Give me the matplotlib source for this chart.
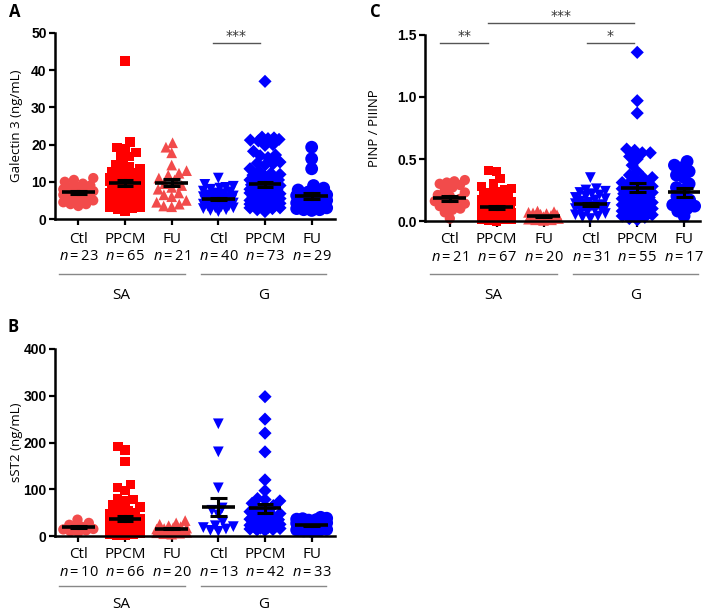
import numpy as np
import matplotlib
matplotlib.use("Agg")
import matplotlib.pyplot as plt
from matplotlib import transforms

plt.rcParams['font.family'] = ['Open Sans', 'DejaVu Sans']
plt.rcParams['mathtext.fontset'] = 'custom'
plt.rcParams['mathtext.it'] = 'Open Sans:italic'
plt.rcParams['mathtext.rm'] = 'Open Sans'

# ---------------- data ----------------
categories = ["Ctl", "PPCM", "FU", "Ctl", "PPCM", "FU"]
groups = ["SA", "G"]

# Panel A: Galectin 3 (ng/mL)
gal_sa_ctl = [3.5, 4.0, 4.0, 4.5, 5.0, 5.5, 5.5, 6.0, 6.5, 6.5, 7.0, 7.0, 7.5, 7.5, 8.0, 8.0,
              8.5, 8.5, 9.0, 9.5, 10.0, 10.5, 11.0]
gal_sa_ppcm = [42.5, 20.7, 19.2, 19.0, 17.8, 17.2, 16.8, 15.2, 14.5, 14.0, 13.5, 13.0, 12.5, 12.0,
               12.0, 11.5, 11.0, 11.0, 10.5, 10.5, 10.0, 10.0, 9.5, 9.5, 9.0, 9.0, 8.5, 8.5, 8.0,
               8.0, 7.5, 7.5, 7.0, 7.0, 6.5, 6.5, 6.0, 6.0, 5.5, 5.5, 5.0, 5.0, 4.5, 4.5, 4.0, 4.0,
               3.5, 3.5, 3.0, 3.0, 2.5, 2.0, 3.2, 4.2, 5.2, 6.2, 7.2, 8.2, 9.2, 10.2, 11.2, 2.8,
               3.8, 4.8, 12.8]
gal_sa_fu = [20.5, 19.3, 17.8, 14.5, 13.0, 12.3, 11.8, 11.0, 10.5, 9.5, 9.0, 8.5, 8.0, 7.0, 6.5,
             6.0, 5.0, 4.5, 4.0, 3.5, 3.3]
gal_g_ctl = [11.0, 9.3, 8.8, 8.5, 8.3, 8.0, 7.5, 7.3, 7.0, 6.8, 6.5, 6.3, 6.0, 6.0, 5.8, 5.5, 5.5,
             5.3, 5.0, 5.0, 5.0, 4.8, 4.5, 4.5, 4.3, 4.0, 4.0, 3.8, 3.5, 3.5, 3.3, 3.0, 3.0, 2.8,
             2.5, 2.3, 2.0, 5.2, 6.2, 4.2]
gal_g_ppcm = [37.0, 22.0, 21.8, 21.6, 21.4, 21.2, 21.0, 20.0, 19.8, 18.2, 17.2, 17.0, 16.5, 15.3,
              15.0, 14.8, 14.5, 13.5, 12.8, 12.3, 12.0, 11.5, 11.0, 11.0, 10.5, 10.5, 10.0, 10.0,
              9.5, 9.5, 9.0, 9.0, 8.5, 8.5, 8.0, 8.0, 7.5, 7.5, 7.0, 7.0, 6.5, 6.5, 6.0, 6.0, 5.5,
              5.5, 5.0, 5.0, 4.5, 4.5, 4.0, 4.0, 3.5, 3.5, 3.0, 3.0, 2.5, 2.0, 3.2, 4.2, 5.2, 6.2,
              7.2, 8.2, 9.2, 10.2, 3.8, 4.8, 5.8, 6.8, 7.8, 2.8, 11.8]
gal_g_fu = [19.3, 16.2, 13.5, 9.0, 8.3, 7.8, 7.3, 7.0, 6.5, 6.3, 6.0, 5.8, 5.5, 5.3, 5.0, 4.8, 4.5,
            4.3, 4.0, 3.8, 3.5, 3.3, 3.0, 3.0, 2.8, 2.5, 2.5, 2.3, 6.8]
gal_mean = [7.2, 9.7, 9.8, 5.4, 9.3, 6.1]
gal_sem = [0.45, 0.8, 1.0, 0.3, 0.7, 0.8]
gal_n = [23, 65, 21, 40, 73, 29]

# Panel B: sST2 (ng/mL)
st2_sa_ctl = [35, 28, 24, 20, 18, 15, 14, 12, 10, 8]
st2_sa_ppcm = [192, 184, 160, 110, 104, 97, 80, 78, 75, 68, 62, 60, 55, 50, 48, 45, 42, 40, 38, 36,
               35, 34, 33, 32, 31, 30, 29, 28, 27, 26, 25, 24, 23, 22, 21, 20, 19, 18, 17, 16, 15,
               14, 13, 12, 11, 10, 9, 8, 7, 6, 5, 4, 3, 2, 1, 30, 25, 20, 15, 10, 5, 28, 22, 18,
               12, 8]
st2_sa_fu = [33, 28, 25, 22, 20, 18, 17, 16, 15, 14, 13, 12, 11, 10, 9, 8, 7, 6, 5, 4]
st2_g_ctl = [240, 180, 103, 60, 55, 45, 30, 22, 20, 18, 15, 12, 10]
st2_g_ppcm = [298, 250, 220, 180, 120, 97, 80, 78, 75, 70, 65, 60, 55, 52, 50, 48, 45, 42, 40, 38,
              36, 35, 33, 32, 30, 28, 27, 26, 25, 24, 23, 22, 21, 20, 19, 18, 17, 16, 15, 14, 13, 12]
st2_g_fu = [40, 38, 37, 36, 35, 34, 33, 32, 31, 30, 29, 28, 27, 26, 25, 24, 23, 22, 21, 20, 19, 18,
            17, 16, 15, 14, 13, 12, 11, 10, 25, 20, 15]
st2_mean = [19, 37, 16, 62, 59, 23]
st2_sem = [2.5, 5.0, 2.0, 19.5, 10.0, 1.5]
st2_n = [10, 66, 20, 13, 42, 33]

# Panel C: PINP / PIIINP
pin_sa_ctl = [0.33, 0.32, 0.31, 0.30, 0.29, 0.27, 0.25, 0.23, 0.21, 0.20, 0.18, 0.17, 0.16, 0.15,
              0.14, 0.13, 0.12, 0.10, 0.09, 0.07, 0.02]
pin_sa_ppcm = [0.41, 0.40, 0.34, 0.30, 0.28, 0.26, 0.25, 0.24, 0.23, 0.22, 0.21, 0.20, 0.19, 0.18,
               0.17, 0.16, 0.15, 0.14, 0.13, 0.12, 0.115, 0.11, 0.105, 0.10, 0.095, 0.09, 0.085,
               0.08, 0.075, 0.07, 0.065, 0.06, 0.055, 0.05, 0.045, 0.04, 0.035, 0.03, 0.025, 0.02,
               0.015, 0.01, 0.005, 0.0, 0.11, 0.10, 0.09, 0.08, 0.07, 0.06, 0.05, 0.04, 0.03, 0.02,
               0.01, 0.12, 0.13, 0.14, 0.15, 0.16, 0.06, 0.05, 0.04, 0.03, 0.02, 0.01, 0.07]
pin_sa_fu = [0.08, 0.075, 0.07, 0.065, 0.06, 0.055, 0.05, 0.045, 0.04, 0.04, 0.035, 0.03, 0.03,
             0.025, 0.02, 0.02, 0.015, 0.01, 0.01, 0.005]
pin_g_ctl = [0.35, 0.26, 0.25, 0.24, 0.23, 0.22, 0.21, 0.20, 0.19, 0.18, 0.17, 0.16, 0.15, 0.14,
             0.14, 0.13, 0.13, 0.12, 0.12, 0.11, 0.10, 0.10, 0.09, 0.08, 0.07, 0.06, 0.05, 0.04,
             0.03, 0.02, 0.11]
pin_g_ppcm = [1.36, 0.97, 0.87, 0.58, 0.57, 0.55, 0.55, 0.52, 0.50, 0.45, 0.40, 0.37, 0.35, 0.33,
              0.31, 0.30, 0.29, 0.28, 0.27, 0.26, 0.25, 0.24, 0.23, 0.22, 0.21, 0.20, 0.19, 0.18,
              0.17, 0.16, 0.15, 0.14, 0.13, 0.12, 0.11, 0.10, 0.09, 0.08, 0.07, 0.06, 0.05, 0.04,
              0.03, 0.02, 0.01, 0.30, 0.25, 0.20, 0.15, 0.10, 0.05, 0.35, 0.18, 0.08, 0.12]
pin_g_fu = [0.48, 0.45, 0.43, 0.40, 0.37, 0.35, 0.30, 0.27, 0.25, 0.20, 0.17, 0.15, 0.13, 0.12,
            0.10, 0.08, 0.04]
pin_mean = [0.185, 0.11, 0.037, 0.135, 0.27, 0.23]
pin_sem = [0.02, 0.012, 0.005, 0.012, 0.035, 0.035]
pin_n = [21, 67, 20, 31, 55, 17]

# ---------------- styles ----------------
C_LRED = '#F24B4B'
C_RED = '#FF0000'
C_BLUE = '#0000FF'
colors = [C_LRED, C_RED, C_LRED, C_BLUE, C_BLUE, C_BLUE]
markers_A = ['o', 's', '^', 'v', 'D', 'o']
msize = [55, 45, 60, 60, 45, 85]

W, H = 709, 612
fig = plt.figure(figsize=(W / 100, H / 100), dpi=100)


def axes_px(left, top, right, bottom):
    return fig.add_axes([left / W, 1 - bottom / H, (right - left) / W, (bottom - top) / H])


def swarm(vals, ppu, d, maxhalf):
    vals = np.asarray(vals, float)
    ys = vals * ppu
    order = np.argsort(vals)
    placed = []
    xs = np.zeros(len(vals))
    for i in order:
        y = ys[i]
        cands = [0.0]
        for (xj, yj) in placed:
            dy = y - yj
            if abs(dy) < d:
                dx = np.sqrt(d * d - dy * dy)
                cands += [xj + dx, xj - dx]
        cands = sorted(set(cands), key=lambda c: (abs(c), c))
        chosen = None
        for c in cands:
            if abs(c) > maxhalf + 1e-9:
                continue
            ok = all((c - xj) ** 2 + (y - yj) ** 2 >= d * d - 1e-6 for (xj, yj) in placed)
            if ok:
                chosen = c
                break
        if chosen is None:
            grid = np.linspace(-maxhalf, maxhalf, 21)
            best, bestd = 0.0, -1
            for g in grid:
                md = min([(g - xj) ** 2 + (y - yj) ** 2 for (xj, yj) in placed] + [1e9])
                if md > bestd + 1e-9:
                    best, bestd = g, md
            chosen = best
        xs[i] = chosen
        placed.append((chosen, y))
    return xs


def panel(ax, data, means, sems, ns, ylim, yticks, yticklabels, ylabel, xlim, box_px, offs,
          ylabel_x):
    left, top, right, bottom = box_px
    hpx = bottom - top
    wpx = right - left
    ppu = hpx / (ylim[1] - ylim[0])
    cat_px = wpx / (xlim[1] - xlim[0])
    for i, vals in enumerate(data):
        xoff_px = swarm(vals, ppu, 8.0, 15.0)
        x = (i + 1) + xoff_px / cat_px
        ax.scatter(x, vals, s=msize[i], marker=markers_A[i], color=colors[i],
                   edgecolors='none', zorder=2, clip_on=False)
    for i, (m, s) in enumerate(zip(means, sems)):
        xc = i + 1
        ax.plot([xc - 0.35, xc + 0.35], [m, m], color='black', lw=2.6, zorder=4,
                solid_capstyle='butt')
        ax.plot([xc, xc], [m - s, m + s], color='black', lw=2.2, zorder=4)
        for yy in (m - s, m + s):
            ax.plot([xc - 0.18, xc + 0.18], [yy, yy], color='black', lw=2.2, zorder=4,
                    solid_capstyle='butt')
    ax.set_xlim(*xlim)
    ax.set_ylim(*ylim)
    ax.set_yticks(yticks)
    ax.set_yticklabels(yticklabels, fontfamily='Liberation Sans', fontweight='bold', fontsize=10)
    ax.set_xticks(range(1, 7))
    ax.set_xticklabels([])
    for sp in ('top', 'right'):
        ax.spines[sp].set_visible(False)
    for sp in ('left', 'bottom'):
        ax.spines[sp].set_linewidth(1.8)
    ax.tick_params(axis='both', direction='out', length=4.5, width=1.6, pad=1.5)
    ax.set_ylabel(ylabel, fontsize=9.5)
    ax.yaxis.set_label_coords(ylabel_x, 0.5)
    o_cat, o_n, o_line, o_grp = offs
    for i in range(6):
        ax.annotate(categories[i], xy=(i + 1, 0), xycoords=('data', 'axes fraction'),
                    xytext=(0, -o_cat * 0.72), textcoords='offset points', ha='center',
                    va='center', fontsize=11)
        ax.annotate(r"$n$" + "\u2009=\u2009%d" % ns[i], xy=(i + 1, 0),
                    xycoords=('data', 'axes fraction'),
                    xytext=(0, -o_n * 0.72), textcoords='offset points', ha='center',
                    va='center', fontsize=10.5)
    trans = transforms.blended_transform_factory(ax.transData, ax.transAxes)
    yline = -o_line / hpx
    ygrp = -o_grp / hpx
    for (x0, x1), g in zip([(0.58, 3.28), (3.62, 6.3)], groups):
        ax.plot([x0, x1], [yline, yline], color='#888888', lw=1.0, transform=trans,
                clip_on=False)
        ax.text((x0 + x1) / 2, ygrp, g, transform=trans, ha='center', va='center', fontsize=11)


def sig(ax, x0, x1, y, txt):
    ax.plot([x0, x1], [y, y], color='#555555', lw=1.0, clip_on=False, zorder=5)
    ax.text((x0 + x1) / 2, y, txt, ha='center', va='bottom', fontsize=10, color='#333333',
            fontfamily='DejaVu Sans')


# Panel A
boxA = (55, 33, 335, 219)
axA = axes_px(*boxA)
panel(axA, [gal_sa_ctl, gal_sa_ppcm, gal_sa_fu, gal_g_ctl, gal_g_ppcm, gal_g_fu],
      gal_mean, gal_sem, gal_n, (0, 50), [0, 10, 20, 30, 40, 50],
      ['0', '10', '20', '30', '40', '50'], 'Galectin 3 (ng/mL)', (0.5, 6.5), boxA,
      (20, 37, 55, 76), -0.115)
sig(axA, 3.88, 4.89, 47.3, '***')

# Panel B
boxB = (55, 349, 335, 536)
axB = axes_px(*boxB)
panel(axB, [st2_sa_ctl, st2_sa_ppcm, st2_sa_fu, st2_g_ctl, st2_g_ppcm, st2_g_fu],
      st2_mean, st2_sem, st2_n, (0, 400), [0, 100, 200, 300, 400],
      ['0', '100', '200', '300', '400'], 'sST2 (ng/mL)', (0.5, 6.5), boxB,
      (19, 36, 50, 69), -0.115)

# Panel C
boxC = (425, 35, 700, 221)
axC = axes_px(*boxC)
panel(axC, [pin_sa_ctl, pin_sa_ppcm, pin_sa_fu, pin_g_ctl, pin_g_ppcm, pin_g_fu],
      pin_mean, pin_sem, pin_n, (0, 1.5), [0.0, 0.5, 1.0, 1.5],
      ['0.0', '0.5', '1.0', '1.5'], 'PINP / PIIINP', (0.47, 6.34), boxC,
      (18, 36, 53, 74), -0.16)
sig(axC, 0.79, 1.82, 1.435, '**')
sig(axC, 1.82, 4.93, 1.597, '***')
sig(axC, 3.92, 4.93, 1.435, '*')

# Panel letters
fig.text(15 / W, 1 - 12 / H, 'A', fontsize=12, fontweight='bold', ha='center', va='center')
fig.text(13 / W, 1 - 327 / H, 'B', fontsize=12, fontweight='bold', ha='center', va='center')
fig.text(375 / W, 1 - 12 / H, 'C', fontsize=12, fontweight='bold', ha='center', va='center')

fig.savefig('out.png', dpi=100)
